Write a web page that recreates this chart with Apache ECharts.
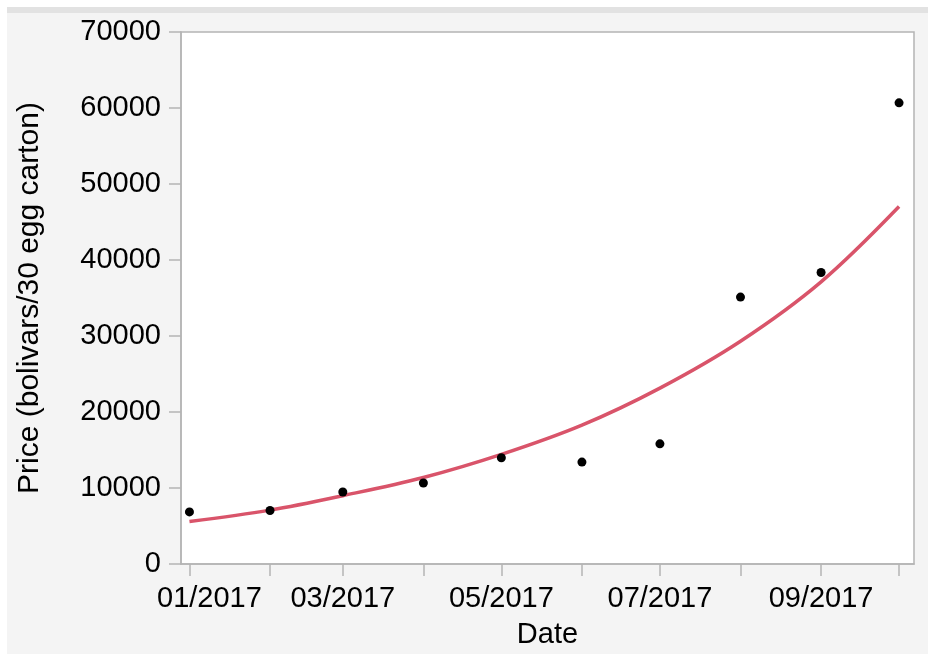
<!DOCTYPE html>
<html><head><meta charset="utf-8">
<script src="https://cdn.jsdelivr.net/npm/echarts@6/dist/echarts.min.js"></script>
<style>
html,body{margin:0;padding:0;background:#fff;width:928px;height:654px;overflow:hidden}
#wrap{position:absolute;left:7px;top:7px;width:921px;height:647px;background:#f4f4f4;border-top:6px solid #e2e2e2;box-sizing:border-box}
#c{position:absolute;left:0;top:0;width:921px;height:641px}
</style></head>
<body>
<div id="wrap"><div id="c"></div></div>
<script>
const dates = ['2017-01-01','2017-02-01','2017-03-01','2017-04-01','2017-05-01','2017-06-01','2017-07-01','2017-08-01','2017-09-01','2017-10-01'];
const prices = [6850, 7040, 9480, 10660, 13980, 13410, 15810, 35120, 38360, 60680];
const fitted = [5600, 7090, 8990, 11380, 14420, 18270, 23140, 29310, 37120, 47030];
const tickDates = ['2017-01-01','2017-02-01','2017-03-01','2017-04-01','2017-05-01','2017-06-01','2017-07-01','2017-08-01','2017-09-01','2017-10-01'];
const labelDates = ['2017-01-01','2017-03-01','2017-05-01','2017-07-01','2017-09-01'];
const yTicks = [0, 10000, 20000, 30000, 40000, 50000, 60000, 70000];

const ts = s => new Date(s + 'T00:00:00Z').getTime();
const font = '"Liberation Sans", Arial, Helvetica, sans-serif';
const chart = echarts.init(document.getElementById('c'));
chart.setOption({
  backgroundColor: '#f4f4f4',
  animation: false,
  grid: {left: 169, top: 19, width: 738, height: 534, show: true, backgroundColor: '#fff', borderColor: '#b4b4b4', borderWidth: 1.5},
  xAxis: {
    type: 'value',
    min: ts('2016-12-28') + 18 * 3600000, max: ts('2017-10-06') + 18 * 3600000,
    name: 'Date', nameLocation: 'middle', nameGap: 56,
    nameTextStyle: {fontFamily: font, fontSize: 29, color: '#000'},
    axisLine: {lineStyle: {color: '#b4b4b4', width: 1.5}},
    axisTick: {show: true, length: 12, lineStyle: {color: '#b4b4b4', width: 1.5}, customValues: tickDates.map(ts)},
    axisLabel: {customValues: labelDates.map(ts), fontFamily: font, fontSize: 29, color: '#000', margin: 20,
      rich: {first: {fontFamily: font, fontSize: 29, color: '#000', padding: [0, 0, 0, 40]}},
      formatter: v => { const d = new Date(v); const m = d.getUTCMonth() + 1; const s = (m < 10 ? '0' : '') + m + '/' + d.getUTCFullYear(); return m === 1 ? '{first|' + s + '}' : s; }},
    splitLine: {show: false}
  },
  yAxis: {
    type: 'value', min: 0, max: 70000, interval: 10000,
    name: 'Price (bolivars/30 egg carton)', nameLocation: 'middle', nameGap: 136,
    nameTextStyle: {fontFamily: font, fontSize: 30, color: '#000'},
    axisLine: {show: true, lineStyle: {color: '#b4b4b4', width: 1.5}},
    axisTick: {show: true, length: 12, lineStyle: {color: '#b4b4b4', width: 1.5}, customValues: yTicks},
    axisLabel: {customValues: yTicks, fontFamily: font, fontSize: 29, color: '#000', margin: 20, formatter: v => String(v)},
    splitLine: {show: false}
  },
  series: [
    {type: 'line', data: dates.map((d, i) => [ts(d), fitted[i]]), smooth: 0.35, symbol: 'none',
      lineStyle: {color: '#d9546a', width: 3.5}, z: 2},
    {type: 'scatter', data: dates.map((d, i) => [ts(d), prices[i]]), symbolSize: 9,
      itemStyle: {color: '#000', opacity: 1}, z: 3}
  ]
});
</script>
</body></html>
